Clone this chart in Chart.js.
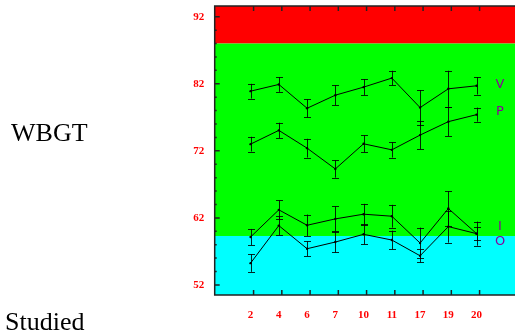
<!DOCTYPE html>
<html>
<head>
<meta charset="utf-8">
<script src="https://cdn.jsdelivr.net/npm/chart.js@4.4.1/dist/chart.umd.min.js"></script>
<style>
  html, body { margin: 0; padding: 0; background: #fff; overflow: hidden; }
  #wrap { position: relative; width: 515px; height: 335px; }
  #chart { display: block; }
  .side { position: absolute; font-family: "Liberation Serif", "Times New Roman", serif; font-size: 26px; line-height: 26px; color: #000; white-space: nowrap; }
</style>
</head>
<body>
<div id="wrap">
  <canvas id="chart" width="515" height="335"></canvas>
  <div class="side" style="left:11px; top:120px;">WBGT</div>
  <div class="side" style="left:5px; top:309px;">Studied</div>
</div>
<script>
// study numbers on the x axis
const studies = ['2', '4', '6', '7', '10', '11', '17', '19', '20'];

// mean WBGT and error per study for each series
const seriesNames = ['V', 'P', 'I', 'O'];
const vMean = [80.9, 81.9, 78.35, 80.3, 81.5, 82.85, 78.45, 81.25, 81.7];
const vErr  = [1.1, 1.1, 1.35, 1.5, 1.2, 1.1, 2.6, 2.7, 1.3];
const pMean = [73.0, 75.05, 72.4, 69.3, 73.05, 72.15, 74.35, 76.35, 77.4];
const pErr  = [1.1, 1.15, 1.4, 1.3, 1.25, 1.15, 2.1, 2.15, 1.05];
const iMean = [59.15, 63.2, 60.9, 61.85, 62.55, 62.25, 58.25, 63.4, 59.65];
const iErr  = [1.2, 1.4, 1.6, 1.85, 1.55, 1.7, 2.3, 2.6, 1.0];
const oMean = [55.25, 60.85, 57.4, 58.4, 59.55, 58.7, 56.35, 60.7, 59.65];
const oErr  = [1.3, 1.4, 1.1, 1.55, 1.5, 1.4, 1.0, 2.4, 1.8];

const yTicks = [52, 62, 72, 82, 92];
const redFrom = 88;     // red zone above
const cyanBelow = 59.3; // cyan zone below

const means = [vMean, pMean, iMean, oMean];
const errs = [vErr, pErr, iErr, oErr];
const labelNudge = [0.1, 0.45, 1.05, -1.2]; // keep series letters apart

const bands = {
  id: 'bands',
  beforeDatasetsDraw(chart) {
    const { ctx, chartArea: a, scales: { y } } = chart;
    const yRed = y.getPixelForValue(redFrom);
    const yCyan = y.getPixelForValue(cyanBelow);
    ctx.save();
    ctx.fillStyle = '#ff0000';
    ctx.fillRect(a.left, a.top, a.right - a.left, yRed - a.top);
    ctx.fillStyle = '#00ff00';
    ctx.fillRect(a.left, yRed, a.right - a.left, yCyan - yRed);
    ctx.fillStyle = '#00ffff';
    ctx.fillRect(a.left, yCyan, a.right - a.left, a.bottom - yCyan);
    ctx.restore();
  },
  afterDatasetsDraw(chart) {
    const { ctx, chartArea: a, scales: { x, y } } = chart;
    ctx.save();
    // error bars
    ctx.strokeStyle = 'rgba(0,0,0,0.85)';
    ctx.lineWidth = 1;
    means.forEach((m, s) => {
      m.forEach((v, i) => {
        const px = Math.round(x.getPixelForValue(i)) + 0.5;
        const top = y.getPixelForValue(v + errs[s][i]);
        const bot = y.getPixelForValue(v - errs[s][i]);
        ctx.beginPath();
        ctx.moveTo(px, top); ctx.lineTo(px, bot);
        ctx.moveTo(px - 3.5, Math.round(top) + 0.5); ctx.lineTo(px + 3.5, Math.round(top) + 0.5);
        ctx.moveTo(px - 3.5, Math.round(bot) + 0.5); ctx.lineTo(px + 3.5, Math.round(bot) + 0.5);
        ctx.stroke();
      });
    });
    // series letters
    ctx.fillStyle = '#8a0099';
    ctx.font = '13px "DejaVu Sans", sans-serif';
    ctx.textAlign = 'center';
    ctx.textBaseline = 'middle';
    seriesNames.forEach((n, s) => {
      const m = means[s];
      ctx.fillText(n, x.getPixelForValue(m.length - 1 + 0.83), y.getPixelForValue(m[m.length - 1] + labelNudge[s]));
    });
    // frame and tick marks
    ctx.strokeStyle = '#222';
    ctx.lineWidth = 1.5;
    ctx.beginPath();
    ctx.moveTo(a.right + 2, a.top); ctx.lineTo(a.left, a.top);
    ctx.lineTo(a.left, a.bottom); ctx.lineTo(a.right + 2, a.bottom);
    for (let v = 52; v <= 92; v += 2) {
      const py = y.getPixelForValue(v);
      const len = yTicks.includes(v) ? 5 : 2;
      ctx.moveTo(a.left, py); ctx.lineTo(a.left + len, py);
    }
    studies.forEach((_, i) => {
      const px = x.getPixelForValue(i) + 3;
      ctx.moveTo(px, a.top); ctx.lineTo(px, a.top + 5);
      ctx.moveTo(px, a.bottom); ctx.lineTo(px, a.bottom - 5);
    });
    ctx.stroke();
    ctx.restore();
  }
};

const tickFont = { family: '"Liberation Serif", "Times New Roman", serif', size: 11, weight: 'bold' };

// no extra room for overhanging tick labels
const noPad = s => { s.paddingLeft = 0; s.paddingRight = 0; s.paddingTop = 0; s.paddingBottom = 0; };

new Chart(document.getElementById('chart'), {
  type: 'line',
  data: {
    datasets: means.map((m, s) => ({
      label: seriesNames[s],
      data: m.map((v, i) => ({ x: i, y: v })),
      borderColor: '#000',
      borderWidth: 1,
      pointRadius: 1.2,
      pointBackgroundColor: '#000',
      pointBorderWidth: 0,
      tension: 0
    }))
  },
  options: {
    responsive: false,
    animation: false,
    layout: { autoPadding: false, padding: { top: 6, left: 0, right: 0, bottom: 0 } },
    plugins: { legend: { display: false }, tooltip: { enabled: false } },
    scales: {
      x: {
        type: 'linear',
        min: -1.27,
        max: 9.36,
        afterFit: s => { s.height = 40; noPad(s); },
        afterBuildTicks: s => { s.ticks = studies.map((_, i) => ({ value: i })); },
        grid: { display: false, drawTicks: false },
        border: { display: false },
        ticks: {
          color: '#ff0000',
          font: tickFont,
          padding: 14,
          maxRotation: 0,
          autoSkip: false,
          callback: v => studies[v]
        }
      },
      y: {
        type: 'linear',
        min: 50.5,
        max: 93.6,
        afterFit: s => { s.width = 214.7; noPad(s); },
        afterBuildTicks: s => { s.ticks = yTicks.map(v => ({ value: v })); },
        grid: { display: false, drawTicks: false },
        border: { display: false },
        ticks: {
          color: '#ff0000',
          font: tickFont,
          padding: 10.5
        }
      }
    }
  },
  plugins: [bands]
});
</script>
</body>
</html>
